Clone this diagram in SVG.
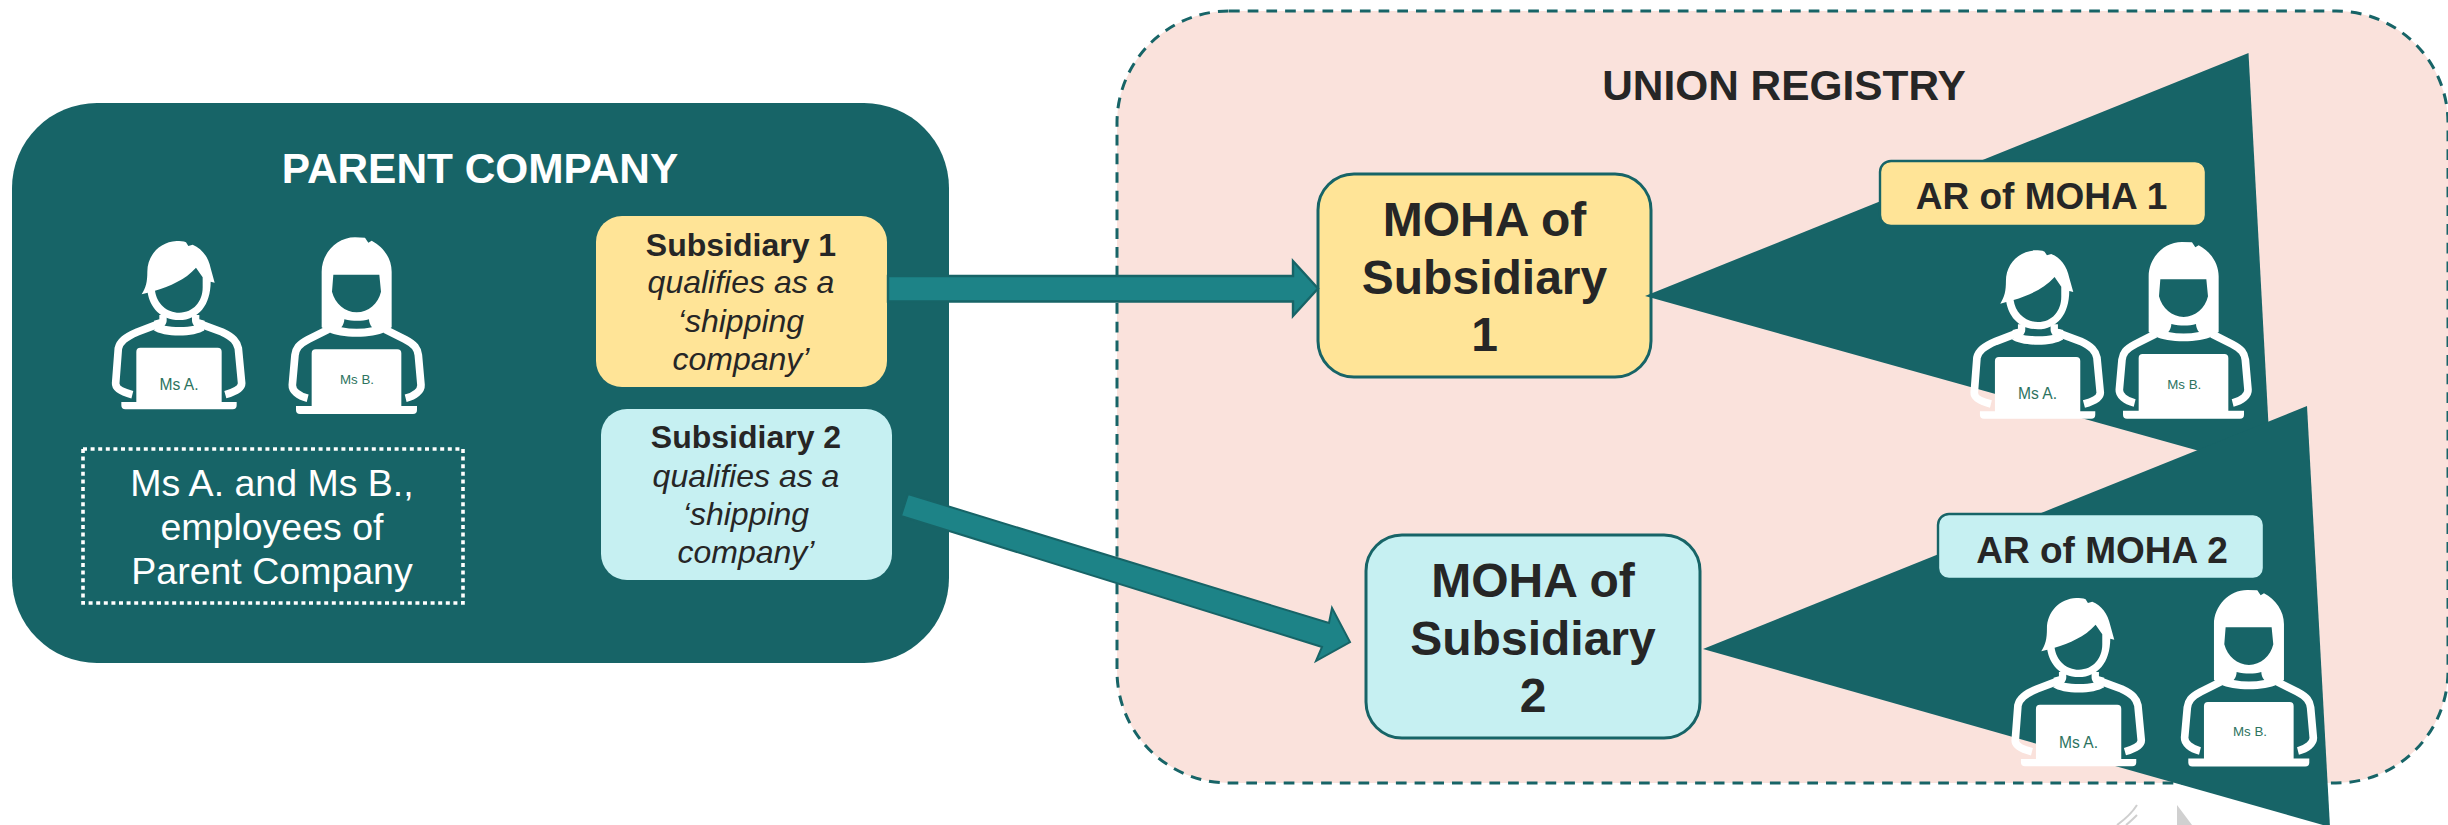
<svg xmlns="http://www.w3.org/2000/svg" xmlns:xlink="http://www.w3.org/1999/xlink" width="2448" height="825" viewBox="0 0 2448 825">
<style>
text{font-family:"Liberation Sans",Arial,sans-serif;text-anchor:middle;fill:#262626}
.b{font-weight:700}
.i{font-style:italic}
.sub{font-size:32px}
.moha{font-size:48px;font-weight:700}
.ar{font-size:37px;font-weight:700}
.head{font-size:42.4px;font-weight:700}
.w{fill:#fff;font-size:37.5px}
.ma{fill:#2c7360;font-size:15.6px}
.mb{fill:#2c7360;font-size:13.3px}
.tri{fill:#176467}
.mbox{stroke:#176467;stroke-width:3}
.arrow{fill:#1d8387;stroke:#176467;stroke-width:2.4}
.line{fill:none;stroke:#fff;stroke-width:23}
.grey{fill:none;stroke:#cfcfcf;stroke-width:2}
</style>
<defs>
<g id="personA" fill="#fff">
<path fill-rule="evenodd" d="M245,283 L263,278 C270,320 300,360 358,360 C415,360 452,315 452,245 L464,248 L452,205 C445,170 425,145 398,134 L385,138 L378,127 C370,123 360,123 350,123 C300,125 262,165 262,215 C262,245 258,262 245,283 Z M285,272 C290,310 320,338 358,338 C400,338 428,305 428,262 L428,232 L408,203 C375,240 330,258 285,272 Z"/>
<path d="M298,345 L320,345 L320,362 C320,368 316,374 312,380 L285,392 L282,362 L298,358 Z M418,345 L396,345 L396,362 C396,368 400,374 404,380 L432,392 L434,362 L418,358 Z"/>
<path d="M280,390 C310,412 405,412 434,390 L402,377 C380,382 340,382 314,377 Z"/>
<path class="line" d="M300,370 L232,396 C195,412 180,425 175,445 L167,550 C166,565 185,576 217,584"/>
<path class="line" d="M416,370 L486,396 C520,412 530,425 535,445 L545,550 C545,565 525,576 496,584"/>
<path d="M229,455 Q229,443 241,443 L473,443 Q485,443 485,455 L485,606 L530,606 L530,616 Q530,628 518,628 L196,628 Q184,628 184,616 L184,606 L229,606 Z"/>
</g>
<g id="personB" fill="#fff">
<path fill-rule="evenodd" d="M785,382 L785,215 C785,160 830,112 885,112 L915,113 L925,128 L935,122 C970,140 995,175 995,215 L995,382 L975,395 C940,415 840,415 805,395 Z M820,224 L958,224 L963,275 C955,310 925,337 890,337 C855,337 825,310 816,275 Z M853,358 C880,364 905,364 927,358 C927,366 930,375 936,382 C905,388 875,388 844,382 C850,375 853,366 853,358 Z"/>
<path class="line" d="M805,388 L745,418 C715,434 708,445 705,465 L697,555 C696,572 715,588 743,595"/>
<path class="line" d="M975,388 L1035,418 C1065,434 1072,445 1075,465 L1083,555 C1084,572 1065,588 1037,595"/>
<path d="M755,460 Q755,448 767,448 L1012,448 Q1024,448 1024,460 L1024,618 L1071,618 L1071,630 Q1071,642 1059,642 L720,642 Q708,642 708,630 L708,618 L755,618 Z"/>
</g>
</defs>
<g id="union-registry">
<rect x="1117" y="11" width="1331" height="772" rx="112" fill="#fae2dc" stroke="#176467" stroke-width="3" stroke-dasharray="10.7 8"/>
<text class="head" x="1784" y="100">UNION REGISTRY</text>
</g>
<g id="parent-company">
<rect x="12" y="103" width="937" height="560" rx="85" fill="#176467"/>
<text class="head" x="480" y="183" style="fill:#fff">PARENT COMPANY</text>
</g>
<g id="employees">
<use xlink:href="#personA" href="#personA" transform="translate(60 200) scale(.33333)"/>
<text class="ma" x="179" y="390">Ms A.</text>
<use xlink:href="#personB" href="#personB" transform="translate(60 200) scale(.33333)"/>
<text class="mb" x="357" y="384">Ms B.</text>
<rect x="83" y="449" width="380" height="154" fill="none" stroke="#fff" stroke-width="3.6" stroke-dasharray="4 3.6"/>
<text class="w" x="272" y="496">Ms A. and Ms B.,</text>
<text class="w" x="272" y="540">employees of</text>
<text class="w" x="272" y="584">Parent Company</text>
</g>
<g id="subsidiary-1">
<rect x="596" y="216" width="291" height="171" rx="26" fill="#ffe497"/>
<text class="sub b" x="741" y="256">Subsidiary 1</text>
<text class="sub i" x="741" y="293">qualifies as a</text>
<text class="sub i" x="741" y="332">‘shipping</text>
<text class="sub i" x="741" y="370">company’</text>
</g>
<g id="subsidiary-2">
<rect x="601" y="409" width="291" height="171" rx="26" fill="#c6f0f2"/>
<text class="sub b" x="746" y="448">Subsidiary 2</text>
<text class="sub i" x="746" y="487">qualifies as a</text>
<text class="sub i" x="746" y="525">‘shipping</text>
<text class="sub i" x="746" y="563">company’</text>
</g>
<g id="moha-1">
<rect class="mbox" x="1318" y="174" width="333" height="203" rx="36" fill="#ffe497"/>
<text class="moha" x="1484.5" y="236">MOHA of</text>
<text class="moha" x="1484.5" y="294">Subsidiary</text>
<text class="moha" x="1484.5" y="351">1</text>
</g>
<g id="moha-2">
<rect class="mbox" x="1366" y="535" width="334" height="203" rx="36" fill="#c6f0f2"/>
<text class="moha" x="1533" y="597">MOHA of</text>
<text class="moha" x="1533" y="655">Subsidiary</text>
<text class="moha" x="1533" y="712">2</text>
</g>
<g id="ar-1">
<polygon class="tri" points="1645,296 2248.5,53 2271,471"/>
<rect x="1880" y="161" width="326" height="65" rx="11" fill="#ffe497" stroke="#176467" stroke-width="2.4"/>
<text class="ar" x="2041.5" y="209">AR of MOHA 1</text>
<use xlink:href="#personA" href="#personA" transform="translate(1918.6 209.3) scale(.33333)"/>
<text class="ma" x="2037.6" y="399">Ms A.</text>
<use xlink:href="#personB" href="#personB" transform="translate(1887 204.7) scale(.33333)"/>
<text class="mb" x="2184.3" y="388.5">Ms B.</text>
</g>
<g id="ar-2">
<polygon class="tri" points="1703,649 2307,406 2330,827"/>
<rect x="1938" y="514" width="326" height="65" rx="11" fill="#c6f0f2" stroke="#176467" stroke-width="2.4"/>
<text class="ar" x="2102" y="563">AR of MOHA 2</text>
<use xlink:href="#personA" href="#personA" transform="translate(1959.6 557) scale(.33333)"/>
<text class="ma" x="2078.6" y="748">Ms A.</text>
<use xlink:href="#personB" href="#personB" transform="translate(1952.3 552.6) scale(.33333)"/>
<text class="mb" x="2250" y="736">Ms B.</text>
</g>
<g id="connectors">
<polygon class="arrow" points="888,276 1293,276 1293,261 1318,288.5 1293,316 1293,301.5 888,301.5"/>
<polygon class="arrow" points="908,494 1329,623 1332,608 1350,642 1316,661 1322,647 901,516" style="stroke-width:2"/>
</g>
<g id="cutoff-marks">
<path class="grey" d="M2137,805 C2132,813 2124,820 2117,825 M2137,815 C2133,819 2130,822 2126,825"/>
<polygon points="2177,805 2177,825 2192,825" fill="#d0d0d0"/>
</g>
</svg>
